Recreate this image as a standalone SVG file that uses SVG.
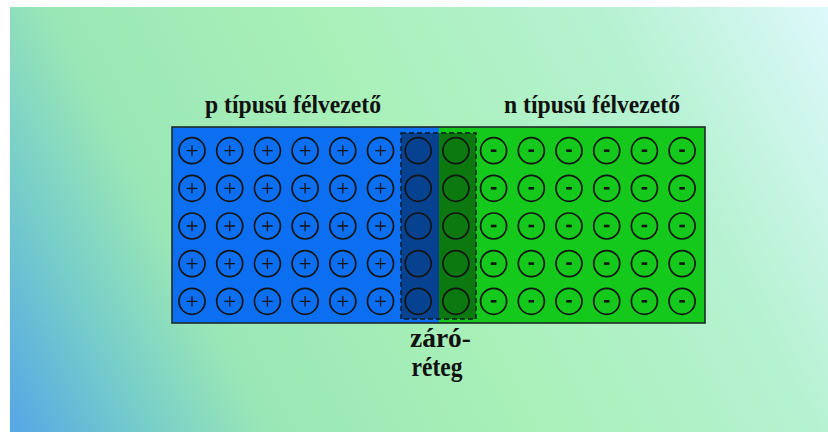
<svg xmlns="http://www.w3.org/2000/svg" xmlns:xlink="http://www.w3.org/1999/xlink" width="828" height="432" viewBox="0 0 828 432">
<defs>
<linearGradient id="bg" x1="10" y1="432" x2="828" y2="7" gradientUnits="userSpaceOnUse">
<stop offset="0" stop-color="#55a6e6"/>
<stop offset="0.13" stop-color="#76cdca"/>
<stop offset="0.25" stop-color="#9ae7b6"/>
<stop offset="0.5" stop-color="#a8f0b8"/>
<stop offset="0.78" stop-color="#b6f2d2"/>
<stop offset="1" stop-color="#ddf8fb"/>
</linearGradient>
<g id="plus" fill="none" stroke="#141414"><circle r="13" stroke-width="1.7"/><path d="M-5.3 0H5.3M0 -5.3V5.3" stroke-width="1.3"/></g>
<g id="minus" fill="none" stroke="#141414"><circle r="13" stroke-width="1.7"/><path d="M-2.8 0H2.8" stroke-width="2.6"/></g>
<g id="empty" fill="none" stroke="#141414"><circle r="13" stroke-width="1.7"/></g>
</defs>
<style>
.title{font-family:"Liberation Serif","Times New Roman",serif;font-weight:bold;fill:#111}
</style>
<rect x="0" y="0" width="828" height="432" fill="#ffffff"/>
<rect x="10" y="7" width="818" height="425" fill="url(#bg)"/>

<g id="p-region">
<rect x="172" y="127" width="267" height="196" fill="#0c6ef0"/>
</g>
<g id="n-region">
<rect x="439" y="127" width="266" height="196" fill="#14c81c"/>
</g>
<rect x="172" y="127" width="533" height="196" fill="none" stroke="#1e2a2a" stroke-width="1.6"/>

<g id="depletion-layer">
<rect x="401" y="133" width="75" height="186" fill="#000" fill-opacity="0.4" stroke="#0a1a20" stroke-width="1.4" stroke-dasharray="5,3"/>
</g>

<g id="p-ions">
<g transform="translate(0,150.7)">
<use xlink:href="#plus" x="192"/><use xlink:href="#plus" x="229.7"/><use xlink:href="#plus" x="267.4"/><use xlink:href="#plus" x="305.1"/><use xlink:href="#plus" x="342.8"/><use xlink:href="#plus" x="380.5"/>
</g>
<g transform="translate(0,188.3)">
<use xlink:href="#plus" x="192"/><use xlink:href="#plus" x="229.7"/><use xlink:href="#plus" x="267.4"/><use xlink:href="#plus" x="305.1"/><use xlink:href="#plus" x="342.8"/><use xlink:href="#plus" x="380.5"/>
</g>
<g transform="translate(0,226)">
<use xlink:href="#plus" x="192"/><use xlink:href="#plus" x="229.7"/><use xlink:href="#plus" x="267.4"/><use xlink:href="#plus" x="305.1"/><use xlink:href="#plus" x="342.8"/><use xlink:href="#plus" x="380.5"/>
</g>
<g transform="translate(0,263.6)">
<use xlink:href="#plus" x="192"/><use xlink:href="#plus" x="229.7"/><use xlink:href="#plus" x="267.4"/><use xlink:href="#plus" x="305.1"/><use xlink:href="#plus" x="342.8"/><use xlink:href="#plus" x="380.5"/>
</g>
<g transform="translate(0,301.3)">
<use xlink:href="#plus" x="192"/><use xlink:href="#plus" x="229.7"/><use xlink:href="#plus" x="267.4"/><use xlink:href="#plus" x="305.1"/><use xlink:href="#plus" x="342.8"/><use xlink:href="#plus" x="380.5"/>
</g>
</g>

<g id="depletion-atoms">
<use xlink:href="#empty" x="418.2" y="150.7"/><use xlink:href="#empty" x="455.9" y="150.7"/>
<use xlink:href="#empty" x="418.2" y="188.3"/><use xlink:href="#empty" x="455.9" y="188.3"/>
<use xlink:href="#empty" x="418.2" y="226"/><use xlink:href="#empty" x="455.9" y="226"/>
<use xlink:href="#empty" x="418.2" y="263.6"/><use xlink:href="#empty" x="455.9" y="263.6"/>
<use xlink:href="#empty" x="418.2" y="301.3"/><use xlink:href="#empty" x="455.9" y="301.3"/>
</g>

<g id="n-ions">
<g transform="translate(0,150.7)">
<use xlink:href="#minus" x="493.6"/><use xlink:href="#minus" x="531.3"/><use xlink:href="#minus" x="569"/><use xlink:href="#minus" x="606.7"/><use xlink:href="#minus" x="644.4"/><use xlink:href="#minus" x="682.1"/>
</g>
<g transform="translate(0,188.3)">
<use xlink:href="#minus" x="493.6"/><use xlink:href="#minus" x="531.3"/><use xlink:href="#minus" x="569"/><use xlink:href="#minus" x="606.7"/><use xlink:href="#minus" x="644.4"/><use xlink:href="#minus" x="682.1"/>
</g>
<g transform="translate(0,226)">
<use xlink:href="#minus" x="493.6"/><use xlink:href="#minus" x="531.3"/><use xlink:href="#minus" x="569"/><use xlink:href="#minus" x="606.7"/><use xlink:href="#minus" x="644.4"/><use xlink:href="#minus" x="682.1"/>
</g>
<g transform="translate(0,263.6)">
<use xlink:href="#minus" x="493.6"/><use xlink:href="#minus" x="531.3"/><use xlink:href="#minus" x="569"/><use xlink:href="#minus" x="606.7"/><use xlink:href="#minus" x="644.4"/><use xlink:href="#minus" x="682.1"/>
</g>
<g transform="translate(0,301.3)">
<use xlink:href="#minus" x="493.6"/><use xlink:href="#minus" x="531.3"/><use xlink:href="#minus" x="569"/><use xlink:href="#minus" x="606.7"/><use xlink:href="#minus" x="644.4"/><use xlink:href="#minus" x="682.1"/>
</g>
</g>

<g id="labels">
<text class="title" x="205" y="113" font-size="25" textLength="176" lengthAdjust="spacingAndGlyphs">p típusú félvezető</text>
<text class="title" x="504" y="113" font-size="25" textLength="176" lengthAdjust="spacingAndGlyphs">n típusú félvezető</text>
<text class="title" x="410" y="347" font-size="27" textLength="61" lengthAdjust="spacingAndGlyphs">záró-</text>
<text class="title" x="411.5" y="376" font-size="27" textLength="51" lengthAdjust="spacingAndGlyphs">réteg</text>
</g>
</svg>
